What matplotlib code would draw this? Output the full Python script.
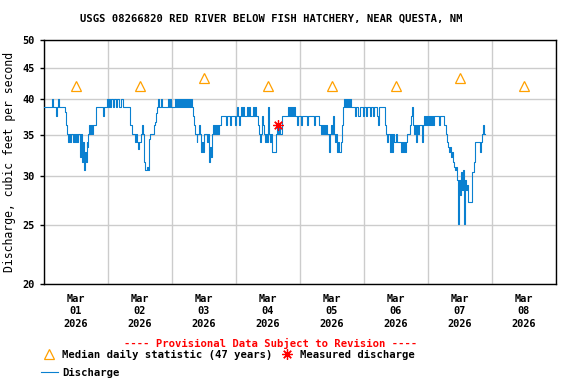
import matplotlib
matplotlib.use("Agg")
import matplotlib.pyplot as plt
import matplotlib.dates as mdates
from matplotlib.lines import Line2D
import pandas as pd


# ================== DATA ==================

title = "USGS 08266820 RED RIVER BELOW FISH HATCHERY, NEAR QUESTA, NM"
start = pd.Timestamp("2026-03-01 00:00")

# discharge steps: hours since Mar 01 00:00, cfs
hours = [
    0.0, 3.0, 3.4, 4.5, 5.0, 5.25, 5.6, 7.7, 8.4, 8.8, 9.0, 9.2, 9.75, 10.1, 10.9,
    11.1, 11.6, 11.9, 12.4, 12.7, 13.5, 13.9, 14.2, 14.6, 15.0, 15.3, 15.6, 16.0,
    16.3, 16.6, 16.9, 17.25, 17.6, 18.0, 18.4, 19.5, 22.1, 22.5, 23.6, 23.9, 24.2,
    24.6, 25.1, 25.9, 26.25, 27.0, 27.4, 28.1, 28.9, 29.6, 32.25, 33.0, 34.2, 34.6,
    35.0, 35.4, 35.8, 36.2, 36.6, 37.1, 37.5, 38.0, 38.5, 38.9, 39.3, 39.6, 41.2,
    41.7, 42.0, 42.5, 42.9, 43.3, 43.7, 44.1, 46.5, 46.9, 47.3, 47.7, 49.1, 49.4,
    49.9, 50.2, 50.6, 51.0, 51.4, 51.7, 52.1, 52.5, 53.0, 53.3, 53.6, 54.0, 54.4,
    54.8, 55.1, 55.5, 56.0, 56.4, 56.6, 57.2, 57.5, 58.1, 58.4, 58.9, 59.3, 59.7,
    60.1, 61.0, 61.4, 61.9, 62.3, 62.7, 63.0, 63.4, 63.8, 64.2, 64.6, 65.0, 65.4,
    65.8, 66.2, 68.2, 68.6, 69.8, 70.2, 71.6, 72.0, 72.4, 72.8, 73.1, 73.4, 73.9,
    74.3, 74.7, 75.0, 76.1, 76.5, 76.9, 77.3, 78.4, 78.8, 79.1, 79.5, 80.2, 80.6,
    80.9, 81.3, 81.7, 82.1, 82.5, 82.9, 83.2, 83.6, 84.0, 84.3, 84.7, 85.1, 85.5,
    87.0, 87.4, 87.8, 88.1, 88.5, 89.2, 91.5, 91.9, 92.3, 92.6, 93.0, 93.4, 93.7,
    94.1, 94.9, 95.3, 96.4, 96.8, 98.6, 99.0, 101.3, 101.6, 103.1, 103.9, 104.3,
    104.6, 105.0, 105.4, 105.8, 106.2, 106.9, 107.3, 107.6, 108.0, 108.4, 108.8,
    109.1, 109.5, 110.0, 110.4, 110.8, 111.2, 111.8, 112.1, 112.5, 112.9, 113.3,
    113.6, 114.0, 114.4, 114.8, 115.1, 116.6, 117.0, 117.8, 118.5, 119.6, 120.0,
    120.8, 121.1, 122.2, 122.6, 123.4, 123.8, 124.9, 125.3, 125.6, 127.9, 128.3,
    128.6, 129.0, 129.8, 130.1, 130.5, 130.9, 131.3, 132.0, 132.4, 133.9, 134.3,
    134.6, 135.0, 135.4, 135.8, 136.1, 137.3, 137.6, 138.0, 138.4, 138.8, 139.1,
    139.5, 139.9, 140.3, 140.6, 141.8, 142.1, 142.5, 142.9, 143.2, 143.6, 144.0,
    144.4, 144.8, 145.1, 145.5, 145.9, 146.3, 148.1, 148.5, 150.0, 150.8, 151.1,
    151.5, 151.9, 152.3, 152.6, 153.0, 153.4, 153.8, 154.1, 154.5, 154.9, 155.3,
    155.6, 156.0, 156.4, 156.8, 157.1, 157.5, 157.9, 158.3, 158.6, 159.0, 160.5,
    161.3, 161.6, 163.5, 163.9, 164.3, 164.6, 165.0, 165.4,
]
cfs = [
    38.9, 40.1, 38.9, 37.6, 38.9, 40.1, 38.9, 38.2, 36.3, 35.1, 34.1, 35.1, 34.1, 35.1, 34.1,
    35.1, 34.1, 35.1, 34.1, 35.1, 32.2, 35.1, 31.6, 34.1, 30.7, 32.8, 31.6, 34.1,
    33.5, 35.1, 36.3, 35.1, 36.3, 35.1, 36.3, 38.9, 37.6, 38.9, 40.1, 38.9, 40.1,
    38.9, 40.1, 38.9, 40.1, 38.9, 40.1, 38.9, 40.1, 38.9, 36.3, 35.1, 34.1, 35.1,
    34.1, 33.2, 34.1, 35.1, 36.3, 35.1, 31.6, 30.7, 31.0, 30.7, 34.5, 35.1, 36.3,
    36.8, 38.0, 38.9, 40.1, 38.9, 40.1, 38.9, 40.1, 38.9, 40.1, 38.9, 40.1, 38.9,
    40.1, 38.9, 40.1, 38.9, 40.1, 38.9, 40.1, 38.9, 40.1, 38.9, 40.1, 38.9, 40.1,
    38.9, 40.1, 38.9, 37.6, 36.3, 35.1, 34.1, 35.1, 36.3, 35.1, 32.8, 34.1, 32.8,
    35.1, 34.1, 35.1, 31.6, 33.5, 32.2, 35.1, 36.3, 35.1, 36.3, 35.1, 36.3, 35.1,
    36.3, 37.6, 36.3, 37.6, 36.3, 37.6, 36.3, 37.6, 38.9, 37.6, 36.3, 37.6, 38.9,
    37.6, 38.9, 37.6, 38.9, 37.6, 38.9, 37.6, 38.9, 37.6, 38.9, 37.6, 36.3, 35.1,
    34.1, 35.1, 37.6, 36.3, 35.1, 34.1, 35.1, 34.1, 38.9, 35.1, 34.1, 35.1, 32.8,
    35.1, 36.3, 35.1, 36.3, 35.1, 37.6, 38.9, 37.6, 38.9, 37.6, 38.9, 37.6, 38.9,
    37.6, 36.3, 37.6, 36.3, 37.6, 36.3, 37.6, 36.3, 37.6, 36.3, 35.1, 36.3,
    35.1, 36.3, 35.1, 36.3, 35.1, 32.8, 35.1, 36.3, 35.1, 37.6, 35.1,
    34.1, 35.1, 32.8, 34.1, 32.8, 34.1, 36.3, 38.9, 40.1, 38.9, 40.1,
    38.9, 40.1, 38.9, 40.1, 38.9, 37.6, 38.9, 37.6, 38.9, 37.6, 38.9,
    37.6, 38.9, 37.6, 38.9, 37.6, 38.9, 37.6, 36.3, 38.9, 36.3, 35.1,
    34.1, 35.1, 32.8, 35.1, 32.8, 35.1, 34.1, 35.1, 34.1, 32.8, 34.1,
    32.8, 34.1, 32.8, 34.1, 35.1, 36.3, 37.6, 38.9, 36.3, 35.1, 36.3,
    34.1, 36.3, 35.1, 36.3, 34.1, 36.3, 37.6, 36.3, 37.6, 36.3, 37.6,
    36.3, 37.6, 36.3, 37.6, 36.3, 37.6, 36.3, 37.6, 36.3, 35.1, 34.1,
    33.5, 32.8, 33.5, 32.2, 32.8, 31.6, 31.0, 30.7, 31.0, 29.6, 25.1,
    29.6, 27.9, 30.5, 28.5, 30.7, 25.1, 29.6, 28.5, 29.0, 27.2, 30.5,
    31.6, 34.1, 32.8, 34.1, 35.1, 36.3, 35.1, 35.1,
]

# median daily statistic (47 years), plotted at noon
median_days = ["2026-03-01", "2026-03-02", "2026-03-03", "2026-03-04",
               "2026-03-05", "2026-03-06", "2026-03-07", "2026-03-08"]
median_cfs = [42.1, 42.1, 43.3, 42.1, 42.1, 42.1, 43.3, 42.1]

# field measurement
measured_time = ["2026-03-04 15:45"]
measured_cfs = [36.3]

y_ticks = [20, 25, 30, 35, 40, 45, 50]


# ================== PLOT ==================

plt.rcParams["font.family"] = "DejaVu Sans Mono"
plt.rcParams["font.weight"] = "bold"

times = start + pd.to_timedelta(hours, unit="h")
median_t = pd.to_datetime(median_days) + pd.Timedelta(hours=12)

fig = plt.figure(figsize=(5.76, 3.84), dpi=100)
ax = fig.add_axes([44 / 576, 1 - 284 / 384, 512 / 576, 244 / 384])

ax.plot(times, cfs, drawstyle="steps-post", color="#0A80D0", lw=0.8, zorder=3)
ax.plot(median_t, median_cfs, ls="none", marker="^", ms=7.5, mfc="none",
        mec="#FFA000", mew=0.9, zorder=4)
ax.plot(pd.to_datetime(measured_time), measured_cfs, ls="none", marker=(8, 2, 0),
        ms=7.5, color="red", mew=0.9, zorder=5)

ax.set_yscale("log")
ax.set_ylim(20, 50)
ax.set_yticks(y_ticks)
ax.set_yticklabels([str(v) for v in y_ticks])
ax.yaxis.set_minor_locator(matplotlib.ticker.NullLocator())

ax.set_xlim(pd.Timestamp("2026-03-01"), pd.Timestamp("2026-03-09"))
ax.xaxis.set_major_locator(mdates.DayLocator())
ax.xaxis.set_major_formatter(matplotlib.ticker.NullFormatter())
ax.xaxis.set_minor_locator(mdates.HourLocator(byhour=[12]))
ax.xaxis.set_minor_formatter(mdates.DateFormatter("%b\n%d\n%Y"))

ax.grid(True, which="major", color="#CCCCCC", lw=1.0)
ax.set_axisbelow(True)
ax.tick_params(axis="x", which="both", length=0, pad=7, labelsize=7.4)
ax.tick_params(axis="y", which="major", length=3, width=1, pad=4, labelsize=7.4)
for lab in ax.xaxis.get_minorticklabels():
    lab.set_linespacing(1.3)
for sp in ax.spines.values():
    sp.set_linewidth(1.0)

ax.set_ylabel("Discharge, cubic feet per second", fontsize=8.3, labelpad=4)

fig.text(271 / 576, 1 - 19 / 384, title, ha="center", va="center", fontsize=7.6)
fig.text(271 / 576, 1 - 343 / 384, "---- Provisional Data Subject to Revision ----",
         ha="center", va="center", fontsize=7.6, color="red")

handles = [
    Line2D([], [], ls="none", marker="^", ms=7.5, mfc="none", mec="#FFA000", mew=0.9),
    Line2D([], [], color="#0A80D0", lw=0.8),
    Line2D([], [], ls="none", marker=(8, 2, 0), ms=7.5, color="red", mew=0.9),
]
labels = ["Median daily statistic (47 years)", "Discharge", "Measured discharge"]
fig.legend(handles, labels, loc="upper left", bbox_to_anchor=(41 / 576, 1 - 350 / 384),
           ncol=2, frameon=False, fontsize=7.6, handlelength=1.6, handletextpad=0.4,
           columnspacing=0.6, labelspacing=0.75, borderpad=0, borderaxespad=0)

fig.savefig("out.png", dpi=100)
